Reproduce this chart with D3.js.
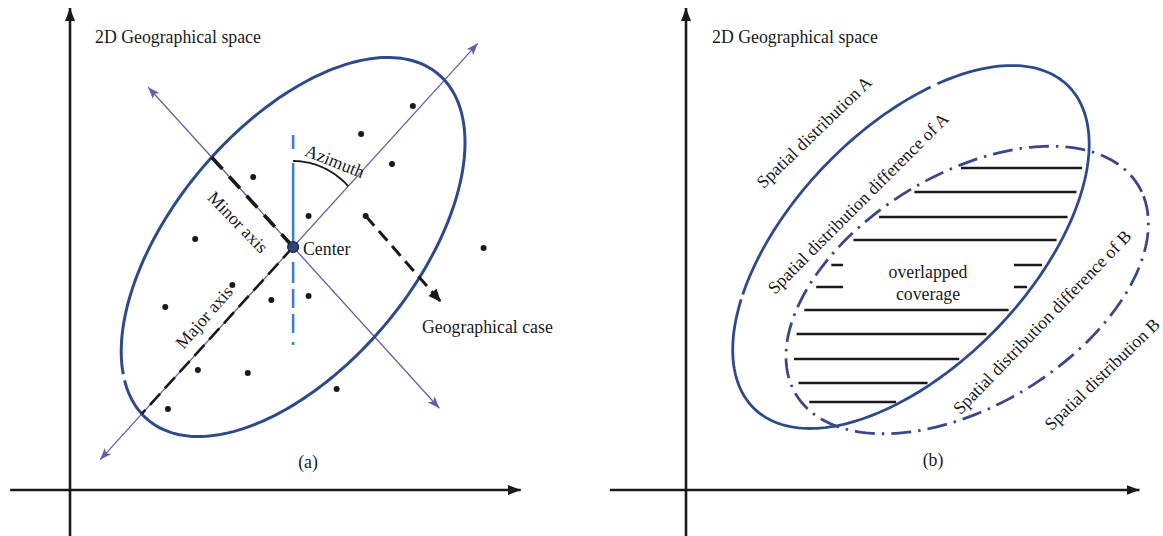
<!DOCTYPE html>
<html>
<head>
<meta charset="utf-8">
<script src="https://cdn.jsdelivr.net/npm/d3@7"></script>
<style>
  html, body { margin: 0; padding: 0; background: #ffffff; }
  svg { display: block; }
  text { font-family: "Liberation Serif", "Times New Roman", serif; font-size: 17.8px; fill: #1a1a1a; }
</style>
</head>
<body>
<script>
// ---------- values (geographical units; origin at the axes' crossing) ----------
const spaceTitle = "2D Geographical space";

// (a) standard deviational ellipse of a set of geographical cases
const caseDots = [
  [378, 384], [321, 356], [355, 326], [202, 313], [263, 274], [326, 274],
  [138, 251], [456, 242], [179, 205], [222, 190], [263, 194], [105, 183],
  [141, 120], [196, 117], [294, 101], [108, 81]
];
const sdeCenter = [246, 243];
const sdeAxes = [236, 127];          // semi-major, semi-minor
const sdeAngle = 45;                 // direction of the major axis, degrees
const sdeBreaks = [[160.5, 163]];    // small breaks in the outline (parameter angle, degrees)
const majorArrowExtent = [-301, 288];
const minorArrowExtent = [-228, 226];
const northExtent = [-98, 112];
const azimuthRadius = 86;
const caseVector = [[326, 274], [409, 188]];

// (b) two distributions and their overlap
const ellipseA = { cx: 248, cy: 243, a: 237, b: 124, angle: 41 };
const ellipseABreaks = [[57, 59.2], [136.2, 137.8]];
const ellipseB = { cx: 310, cy: 200, a: 216, b: 118, angle: 27 };
const hatchLevels = [322, 298, 273, 250, 225, 203, 180, 156, 131, 107, 88];

// ---------- layout ----------
const W = 1163, H = 536;
const unitX = 0.907;                 // horizontal pixels per unit
const xA = d3.scaleLinear().domain([0, 500]).range([70, 70 + 500 * unitX]);
const yA = d3.scaleLinear().domain([0, 482]).range([490, 8]);
const xB = d3.scaleLinear().domain([0, 500]).range([686, 686 + 500 * unitX]);
const yB = yA.copy();

const ink = "#1a1a1a";
const ellipseBlue = "#2f4a8c";
const thinBlue = "#6060a8";
const northBlue = "#3f7fd0";

const svg = d3.select("body").append("svg").attr("width", W).attr("height", H);
svg.append("rect").attr("width", W).attr("height", H).attr("fill", "#ffffff");

const defs = svg.append("defs");
function marker(id, color, w, h, notch) {
  defs.append("marker")
    .attr("id", id).attr("viewBox", `0 0 ${w} ${h}`)
    .attr("refX", w).attr("refY", h / 2)
    .attr("markerWidth", w).attr("markerHeight", h)
    .attr("markerUnits", "userSpaceOnUse")
    .attr("orient", "auto-start-reverse")
    .append("path")
    .attr("d", `M0,0 L${w},${h / 2} L0,${h} L${notch},${h / 2} Z`)
    .attr("fill", color);
}
marker("axisHead", ink, 13, 10, 0);
marker("thinHead", thinBlue, 12, 9, 3);
marker("caseHead", ink, 13, 11, 0);

// ---------- helpers ----------
const rad = d => d * Math.PI / 180;
function along(c, angle, dist) {
  return [c[0] + dist * Math.cos(rad(angle)), c[1] + dist * Math.sin(rad(angle))];
}
function ellipseAt(e, tDeg) {
  const th = rad(e.angle), c = Math.cos(th), s = Math.sin(th);
  const u = e.a * Math.cos(rad(tDeg)), v = e.b * Math.sin(rad(tDeg));
  return [e.cx + u * c - v * s, e.cy + u * s + v * c];
}
// outline as one or more arcs, leaving out the given breaks
function ellipseArcs(e, breaks) {
  if (!breaks || !breaks.length) {
    return [d3.range(0, 361, 1.5).map(t => ellipseAt(e, t))];
  }
  const bs = breaks.slice().sort((p, q) => p[0] - q[0]);
  const arcs = [];
  for (let i = 0; i < bs.length; i++) {
    const t0 = bs[i][1];
    const t1 = i + 1 < bs.length ? bs[i + 1][0] : bs[0][0] + 360;
    const n = Math.max(2, Math.ceil((t1 - t0) / 1.5));
    arcs.push(d3.range(n + 1).map(k => ellipseAt(e, t0 + (t1 - t0) * k / n)));
  }
  return arcs;
}
function drawEllipse(g, sx, sy, e, breaks) {
  const line = d3.line().x(d => sx(d[0])).y(d => sy(d[1]));
  const arcs = ellipseArcs(e, breaks);
  const closed = !breaks || !breaks.length;
  return g.append("path")
    .attr("d", arcs.map(a => line(a) + (closed ? "Z" : "")).join(""))
    .attr("fill", "none");
}
// x-interval where a horizontal level crosses an ellipse
function ellipseSpan(e, y) {
  const th = rad(e.angle), c = Math.cos(th), s = Math.sin(th);
  const Y = y - e.cy, a2 = e.a * e.a, b2 = e.b * e.b;
  const A = c * c / a2 + s * s / b2;
  const B = 2 * Y * (c * s / a2 - c * s / b2);
  const C = Y * Y * (s * s / a2 + c * c / b2) - 1;
  const disc = B * B - 4 * A * C;
  if (disc < 0) return null;
  const r = Math.sqrt(disc);
  return [e.cx + (-B - r) / (2 * A), e.cx + (-B + r) / (2 * A)];
}
function axes(g, sx, sy, xExt, yExt) {
  g.append("line")
    .attr("x1", sx(xExt[0])).attr("y1", sy(0))
    .attr("x2", sx(xExt[1])).attr("y2", sy(0))
    .attr("stroke", ink).attr("stroke-width", 2.6)
    .attr("marker-end", "url(#axisHead)");
  g.append("line")
    .attr("x1", sx(0)).attr("y1", sy(yExt[0]))
    .attr("x2", sx(0)).attr("y2", sy(yExt[1]))
    .attr("stroke", ink).attr("stroke-width", 2.6)
    .attr("marker-end", "url(#axisHead)");
}
function rotatedLabel(g, text, cx, cy, angle) {
  g.append("text")
    .attr("transform", `translate(${cx},${cy}) rotate(${angle})`)
    .attr("text-anchor", "middle").attr("dy", "0.35em")
    .text(text);
}

// =================== (a) ===================
const ga = svg.append("g");
axes(ga, xA, yA, [-66, 497], [-50, 482]);
ga.append("text").attr("x", 95).attr("y", 43).text(spaceTitle);

const sde = { cx: sdeCenter[0], cy: sdeCenter[1], a: sdeAxes[0], b: sdeAxes[1], angle: sdeAngle };

// major and minor axis arrows
[[sdeAngle, majorArrowExtent], [sdeAngle + 90, minorArrowExtent]].forEach(([ang, ext]) => {
  const p0 = along(sdeCenter, ang, ext[0]), p1 = along(sdeCenter, ang, ext[1]);
  ga.append("line")
    .attr("x1", xA(p0[0])).attr("y1", yA(p0[1]))
    .attr("x2", xA(p1[0])).attr("y2", yA(p1[1]))
    .attr("stroke", thinBlue).attr("stroke-width", 1.3)
    .attr("marker-start", "url(#thinHead)").attr("marker-end", "url(#thinHead)");
});

// the ellipse
drawEllipse(ga, xA, yA, sde, sdeBreaks)
  .attr("stroke", ellipseBlue).attr("stroke-width", 3);

// dashed half-axis lengths
{
  const pm = along(sdeCenter, sdeAngle + 180, sdeAxes[0]);
  ga.append("line")
    .attr("x1", xA(sdeCenter[0])).attr("y1", yA(sdeCenter[1]))
    .attr("x2", xA(pm[0])).attr("y2", yA(pm[1]))
    .attr("stroke", ink).attr("stroke-width", 2.6).attr("stroke-dasharray", "15,7");
  const pn = along(sdeCenter, sdeAngle + 90, sdeAxes[1]);
  ga.append("line")
    .attr("x1", xA(pn[0])).attr("y1", yA(pn[1]))
    .attr("x2", xA(sdeCenter[0])).attr("y2", yA(sdeCenter[1]))
    .attr("stroke", ink).attr("stroke-width", 3.6).attr("stroke-dasharray", "16,10");
}

// north reference line
ga.append("line")
  .attr("x1", xA(sdeCenter[0])).attr("y1", yA(sdeCenter[1] + northExtent[1]))
  .attr("x2", xA(sdeCenter[0])).attr("y2", yA(sdeCenter[1] + northExtent[0]))
  .attr("stroke", northBlue).attr("stroke-width", 2.6)
  .attr("stroke-dasharray", "14,14,84,15,21,6,19,6,19,9,3,100");

// azimuth arc, from north to the major axis
{
  const pts = d3.range(0, 41).map(i => along(sdeCenter, 90 - (90 - sdeAngle) * i / 40, azimuthRadius));
  ga.append("path")
    .attr("d", d3.line().x(d => xA(d[0])).y(d => yA(d[1]))(pts))
    .attr("fill", "none").attr("stroke", ink).attr("stroke-width", 1.8);
}

// geographical cases
ga.selectAll("circle.case").data(caseDots).join("circle")
  .attr("class", "case")
  .attr("cx", d => xA(d[0])).attr("cy", d => yA(d[1])).attr("r", 3)
  .attr("fill", ink);

// direction of one case
ga.append("line")
  .attr("x1", xA(caseVector[0][0])).attr("y1", yA(caseVector[0][1]))
  .attr("x2", xA(caseVector[1][0])).attr("y2", yA(caseVector[1][1]))
  .attr("stroke", ink).attr("stroke-width", 3).attr("stroke-dasharray", "13,7")
  .attr("marker-end", "url(#caseHead)");

// center point
ga.append("circle")
  .attr("cx", xA(sdeCenter[0])).attr("cy", yA(sdeCenter[1])).attr("r", 5.5)
  .attr("fill", "#2d4474").attr("stroke", "#16254a").attr("stroke-width", 1.2);

ga.append("text").attr("x", 303).attr("y", 255).text("Center");
ga.append("text").attr("x", 422).attr("y", 333).text("Geographical case");
rotatedLabel(ga, "Azimuth", 335, 161, 22);
rotatedLabel(ga, "Minor axis", 238, 222, 46);
rotatedLabel(ga, "Major axis", 204, 317, -49);
ga.append("text").attr("x", 308).attr("y", 468).attr("text-anchor", "middle").text("(a)");

// =================== (b) ===================
const gb = svg.append("g");
axes(gb, xB, yB, [-84, 500], [-50, 482]);
gb.append("text").attr("x", 712).attr("y", 43).text(spaceTitle);

// hatching of the overlapped coverage
gb.selectAll("line.hatch")
  .data(hatchLevels.map(y => {
    const sa = ellipseSpan(ellipseA, y), sb = ellipseSpan(ellipseB, y);
    return { y, x0: Math.max(sa[0], sb[0]), x1: Math.min(sa[1], sb[1]) };
  }))
  .join("line")
  .attr("class", "hatch")
  .attr("x1", d => xB(d.x0) + 8).attr("x2", d => xB(d.x1) - 5)
  .attr("y1", d => yB(d.y)).attr("y2", d => yB(d.y))
  .attr("stroke", ink).attr("stroke-width", 2.6);

// label box over the hatching
gb.append("rect")
  .attr("x", 843).attr("y", 254).attr("width", 171).attr("height", 44)
  .attr("fill", "#ffffff");
gb.append("text").attr("x", 928).attr("y", 278).attr("text-anchor", "middle").text("overlapped");
gb.append("text").attr("x", 928).attr("y", 300).attr("text-anchor", "middle").text("coverage");

drawEllipse(gb, xB, yB, ellipseA, ellipseABreaks)
  .attr("stroke", ellipseBlue).attr("stroke-width", 2.8);
drawEllipse(gb, xB, yB, ellipseB, null)
  .attr("stroke", "#3c4788").attr("stroke-width", 2.8)
  .attr("stroke-dasharray", "20,7,2.5,7");

rotatedLabel(gb, "Spatial distribution A", 814, 132, -44);
rotatedLabel(gb, "Spatial distribution difference of A", 858, 203, -45);
rotatedLabel(gb, "Spatial distribution difference of B", 1042, 322, -46);
rotatedLabel(gb, "Spatial distribution B", 1102, 374, -44);
gb.append("text").attr("x", 933).attr("y", 466).attr("text-anchor", "middle").text("(b)");
</script>
</body>
</html>
